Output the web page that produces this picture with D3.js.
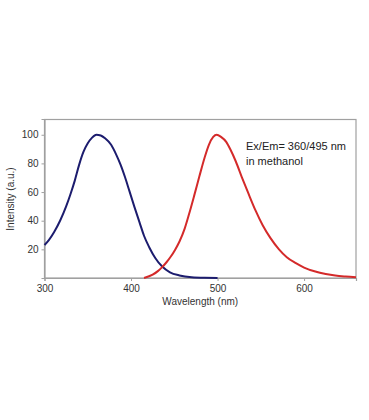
<!DOCTYPE html>
<html><head><meta charset="utf-8">
<script src="https://cdn.jsdelivr.net/npm/d3@7"></script>
<style>body{margin:0;background:#fff}svg{display:block}</style>
</head><body>
<svg id="c" width="369" height="420"></svg>
<script>
const excitationWl = [300,305,311,318,325,330,335,340,345,350,355,360,365,370,377,383,388,393,398,404,410,415,421,428,436,445,456,470,485,500];
const excitationVal = [23,26.5,32,40,50,58.5,68,79,88,94,98,100,99.5,97.5,93,86,79,70.5,61,49.5,38.5,29.5,21.5,14,8,4,1.8,0.5,0.1,0];
const emissionWl = [415,425,431,436,441,446,451,456,462,467,473,479,485,490,495,499,504,510,515,521,528,536,544,552,561,571,580,590,600,613,625,636,648,660];
const emissionVal = [0,2.3,4.8,7.6,11,15,19.8,25.5,34.5,44.5,57.5,71,84,93,98.5,100,98.5,95,89.5,81.5,70.5,58.5,47,37,28,20,14.5,10.5,7.3,4.5,2.8,1.7,1,0.5];
const xTicks = [300,400,500,600];
const yTicks = [20,40,60,80,100];
const annotation = ["Ex/Em= 360/495 nm","in methanol"];

const svg = d3.select("#c");
const x = d3.scaleLinear().domain([300,660]).range([44.5,356]);
const y = d3.scaleLinear().domain([0,111]).range([278,119]);
const font = "Liberation Sans, Arial, sans-serif";
const axisCol = "#a0a0a0";

svg.append("rect").attr("x",44.5).attr("y",119.5).attr("width",311.5).attr("height",158.5)
  .attr("fill","none").attr("stroke",axisCol).attr("stroke-width",1.2);

const xa = svg.append("g").attr("transform","translate(0,278)")
  .call(d3.axisBottom(x).tickValues(xTicks).tickSize(3).tickPadding(4).tickFormat(d3.format("d")));
const ya = svg.append("g").attr("transform","translate(44.5,0)")
  .call(d3.axisLeft(y).tickValues(yTicks).tickSize(3).tickPadding(3).tickFormat(d3.format("d")));
[xa,ya].forEach(g=>{
  g.select(".domain").attr("stroke",axisCol).attr("stroke-width",1.2);
  g.selectAll(".tick line").attr("stroke",axisCol);
  g.selectAll("text").attr("fill","#333").style("font-family",font).style("font-size","10px");
});

const line = d3.line().x(d=>x(d[0])).y(d=>y(d[1])).curve(d3.curveMonotoneX);
svg.append("path").datum(excitationWl.map((w,i)=>[w,excitationVal[i]]))
  .attr("d",line).attr("fill","none").attr("stroke","#1c1c6e").attr("stroke-width",2);
svg.append("path").datum(emissionWl.map((w,i)=>[w,emissionVal[i]]))
  .attr("d",line).attr("fill","none").attr("stroke","#d42a2a").attr("stroke-width",2);

svg.append("text").attr("x",(x(300)+x(660))/2).attr("y",305).attr("text-anchor","middle")
  .style("font-family",font).style("font-size","10px").attr("fill","#333").text("Wavelength (nm)");
svg.append("text").attr("transform","translate(14,199) rotate(-90)").attr("text-anchor","middle")
  .style("font-family",font).style("font-size","10px").attr("fill","#333").text("Intensity (a.u.)");

annotation.forEach((t,i)=>{
  svg.append("text").attr("x",246).attr("y",150+i*14.5)
    .style("font-family",font).style("font-size","11px").attr("fill","#222").text(t);
});
</script>
</body></html>
